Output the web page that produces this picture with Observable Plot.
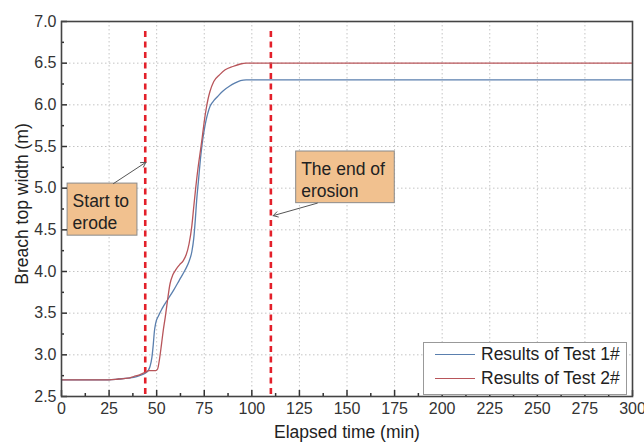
<!DOCTYPE html>
<html><head><meta charset="utf-8">
<script src="https://cdn.jsdelivr.net/npm/d3@7"></script>
<script src="https://cdn.jsdelivr.net/npm/@observablehq/plot@0.6"></script>
<style>
body{margin:0;background:#fff;font-family:"Liberation Sans",Arial,sans-serif;}
#wrap{position:relative;width:644px;height:443px;}
#legend{position:absolute;left:423px;top:342px;width:204px;height:53px;border:1px solid #999;background:#fff;box-sizing:border-box;font-size:17.5px;color:#222;}
.row{position:absolute;left:11px;height:22px;display:flex;align-items:center;}
.sw{width:40px;height:0;border-top:1.3px solid;margin-right:6px;}
</style></head>
<body><div id="wrap"><div id="legend">
<div class="row" style="top:0px"><span class="sw" style="border-color:#5a7fae"></span>Results of Test 1#</div>
<div class="row" style="top:24px"><span class="sw" style="border-color:#b8555a"></span>Results of Test 2#</div>
</div></div>
<script>
const t1 = [0,10,20,25,30,35,38,41,44,45.5,46.5,47.5,48.2,48.8,49.5,51,53,56,59,62,65,67,68.5,69.5,70.3,71,72,73,74,75,76,77,78,79,80,82,85,88,91,94,97,100,150,200,250,300];
const w1 = [2.70,2.70,2.70,2.70,2.71,2.72,2.73,2.75,2.78,2.81,2.86,2.97,3.12,3.28,3.38,3.47,3.56,3.67,3.78,3.90,4.02,4.12,4.24,4.40,4.62,4.85,5.10,5.35,5.55,5.70,5.82,5.91,5.98,6.02,6.05,6.10,6.17,6.22,6.26,6.29,6.30,6.30,6.30,6.30,6.30,6.30];
const t2 = [0,10,20,25,30,35,38,41,44,46,48,49.5,50.5,51.5,52.5,53.5,54.5,55.5,57,58.5,60,62,64,65.5,67,68.5,69.5,70.5,72,73,74,75,76,77,78,80,83,86,90,94,97,100,150,200,250,300];
const w2 = [2.70,2.70,2.70,2.70,2.71,2.72,2.74,2.76,2.79,2.81,2.81,2.81,2.83,2.95,3.12,3.30,3.45,3.62,3.85,3.96,4.02,4.08,4.13,4.20,4.33,4.55,4.78,5.00,5.29,5.45,5.62,5.80,5.95,6.07,6.16,6.28,6.36,6.42,6.46,6.49,6.50,6.50,6.50,6.50,6.50,6.50];
const events = [44, 110];
const xTicks = d3.range(0, 301, 25);
const xMinor = d3.range(12.5, 300, 25);
const yTicks = d3.range(2.5, 7.01, 0.5);
const yMinor = d3.range(2.75, 7, 0.5);
const boxes = [
  {label:"Start to\nerode", x1:3.2, x2:39.9, y1:5.055, y2:4.43, ax1:27.3, ay1:5.055, ax2:44.3, ay2:5.31},
  {label:"The end of\nerosion", x1:123.3, x2:175.1, y1:5.44, y2:4.82, ax1:134.4, ay1:4.82, ax2:111.2, ay2:4.67}
];
const series = [
  ...t1.map((t,i)=>({t, w:w1[i], s:"Test 1"})),
  ...t2.map((t,i)=>({t, w:w2[i], s:"Test 2"}))
];
const plot = Plot.plot({
  width:644, height:443, marginLeft:61, marginRight:12, marginTop:21, marginBottom:47,
  style:{fontFamily:"'Liberation Sans', Arial, sans-serif", fontSize:"16px", color:"#333", background:"white"},
  x:{domain:[0,300]}, y:{domain:[2.5,7]},
  marks:[
    Plot.gridX(xTicks.filter(d=>d>0&&d<300), {stroke:"#c4c4c4", strokeOpacity:1, strokeDasharray:"1.5,2.5"}),
    Plot.gridY(yTicks.filter(d=>d>2.5&&d<7), {stroke:"#c4c4c4", strokeOpacity:1, strokeDasharray:"1.5,2.5"}),
    Plot.ruleX(events, {x:d=>d, y1:6.88, y2:2.5, stroke:"#e3202a", strokeWidth:2.6, strokeDasharray:"6,4.5"}),
    Plot.line(series, {x:"t", y:"w", z:"s", stroke:d=>d.s==="Test 1"?"#5a7fae":"#b8555a", curve:"monotone-x", strokeWidth:1.3}),
    Plot.rect(boxes, {x1:"x1", x2:"x2", y1:"y1", y2:"y2", fill:"#f1c18f", stroke:"#8a8a8a", strokeWidth:1}),
    Plot.text(boxes, {x:d=>d.x1, y:d=>d.y1, text:"label", textAnchor:"start", lineAnchor:"top", dx:5, dy:8, fontSize:17.5, fill:"#222", lineHeight:1.25}),
    Plot.arrow(boxes, {x1:"ax1", y1:"ay1", x2:"ax2", y2:"ay2", stroke:"#555", strokeWidth:1, headLength:8, bend:0}),
    Plot.tickX(xTicks, {x:d=>d, insetTop:369, stroke:"#333", strokeWidth:1.5}),
    Plot.tickX(xMinor, {x:d=>d, insetTop:372, stroke:"#333", strokeWidth:1.5}),
    Plot.tickY(yTicks, {y:d=>d, insetRight:565, stroke:"#333", strokeWidth:1.5}),
    Plot.tickY(yMinor, {y:d=>d, insetRight:568, stroke:"#333", strokeWidth:1.5}),
    Plot.axisX(xTicks, {tickSize:0, tickPadding:6, label:null, fill:"#333"}),
    Plot.axisY(yTicks, {tickSize:0, tickPadding:5, label:null, tickFormat:d3.format(".1f"), fill:"#333"}),
    Plot.frame({stroke:"#444", strokeWidth:1.6}),
    Plot.text(["Elapsed time (min)"], {frameAnchor:"bottom", lineAnchor:"middle", textAnchor:"middle", dy:36, fontSize:17.5, fill:"#222"}),
    Plot.text(["Breach top width (m)"], {frameAnchor:"left", lineAnchor:"middle", textAnchor:"middle", dx:-39, dy:-5, rotate:-90, fontSize:17.5, fill:"#222"})
  ]
});
document.getElementById("wrap").prepend(plot);
plot.style.position="absolute"; plot.style.left="0"; plot.style.top="0";
</script></body></html>
